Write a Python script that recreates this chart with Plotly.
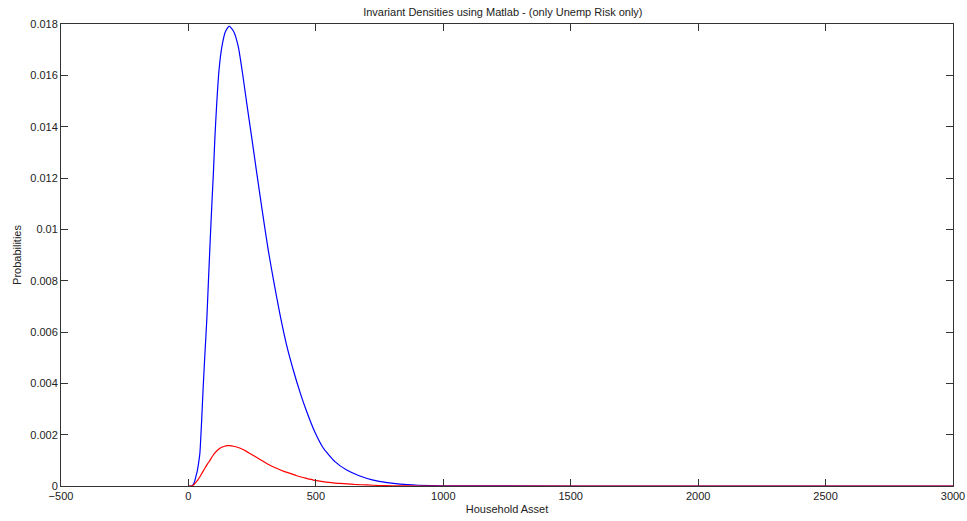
import plotly.graph_objects as go

x_blue = [0, 14, 20, 25, 30, 35, 40, 45, 52, 58, 65, 72, 79, 86, 92, 98, 104, 111, 120, 131, 145, 160, 178, 196, 212, 229, 248, 268, 290, 313, 336, 359, 385, 412, 438, 464, 496, 529, 575, 621, 670, 725, 780, 830, 900, 1000, 1500, 2000, 2500, 3000]
y_blue = [0, 0, 0.00008, 0.0002, 0.0004, 0.0006, 0.0009, 0.00128, 0.00257, 0.00387, 0.0052, 0.00647, 0.0081, 0.0097, 0.011, 0.0122, 0.0136, 0.0149, 0.0162, 0.0171, 0.0177, 0.01792, 0.0177, 0.0171, 0.0161, 0.0149, 0.0136, 0.0122, 0.0107, 0.0092, 0.0079, 0.0067, 0.0055, 0.0045, 0.00365, 0.0029, 0.0021, 0.00148, 0.00095, 0.00062, 0.0004, 0.00023, 0.00013, 0.00007, 0.00003, 0.00001, 0, 0, 0, 0]

x_red = [0, 13, 22, 30, 38, 45, 55, 65, 75, 85, 95, 105, 115, 124, 133, 142, 151, 160, 177, 195, 212, 229, 250, 270, 288, 307, 328, 350, 375, 399, 425, 450, 470, 490, 515, 540, 568, 595, 650, 700, 750, 800, 900, 1000, 1500, 2000, 2500, 3000]
y_red = [0, 0, 0.00006, 0.00015, 0.00025, 0.00036, 0.00053, 0.0007, 0.00086, 0.00101, 0.00117, 0.0013, 0.0014, 0.00147, 0.00152, 0.00155, 0.00157, 0.00157, 0.00155, 0.0015, 0.00143, 0.00134, 0.00122, 0.0011, 0.00099, 0.00088, 0.00077, 0.00067, 0.00057, 0.00049, 0.0004, 0.00033, 0.00028, 0.00023, 0.00019, 0.00015, 0.00012, 0.0001, 0.00006, 0.00004, 0.00002, 0.00001, 0, 0, 0, 0, 0, 0]

x_ticks = [-500, 0, 500, 1000, 1500, 2000, 2500, 3000]
y_ticks = [0, 0.002, 0.004, 0.006, 0.008, 0.01, 0.012, 0.014, 0.016, 0.018]
y_tick_text = ["0", "0.002", "0.004", "0.006", "0.008", "0.01", "0.012", "0.014", "0.016", "0.018"]

fig = go.Figure()
fig.add_trace(go.Scatter(x=x_blue, y=y_blue, mode="lines",
                         line=dict(color="#0000ff", width=1.2, shape="spline", smoothing=0.5),
                         showlegend=False))
fig.add_trace(go.Scatter(x=x_red, y=y_red, mode="lines",
                         line=dict(color="#ff0000", width=1.2, shape="spline", smoothing=0.5),
                         showlegend=False))

font = dict(family="Liberation Sans, Arial, sans-serif", size=11, color="#222222")
axis_common = dict(showline=True, linecolor="#333333", linewidth=1, mirror="allticks",
                   ticks="inside", ticklen=7, tickcolor="#333333", showgrid=False,
                   zeroline=False, tickfont=font, automargin=False)

fig.update_layout(
    width=967, height=521,
    margin=dict(l=61, r=14, t=24, b=35),
    paper_bgcolor="white", plot_bgcolor="white",
    title=dict(text="Invariant Densities using Matlab - (only Unemp Risk only)",
               x=0.52, xanchor="center", y=0.985, yanchor="top", font=font),
    xaxis=dict(range=[-500, 3000], tickvals=x_ticks,
               title=dict(text="Household Asset", font=font, standoff=4), **axis_common),
    yaxis=dict(range=[0, 0.018], tickvals=y_ticks, ticktext=y_tick_text,
               title=dict(text="Probabilities", font=font, standoff=6), **axis_common),
)

fig.write_html("out.html")
